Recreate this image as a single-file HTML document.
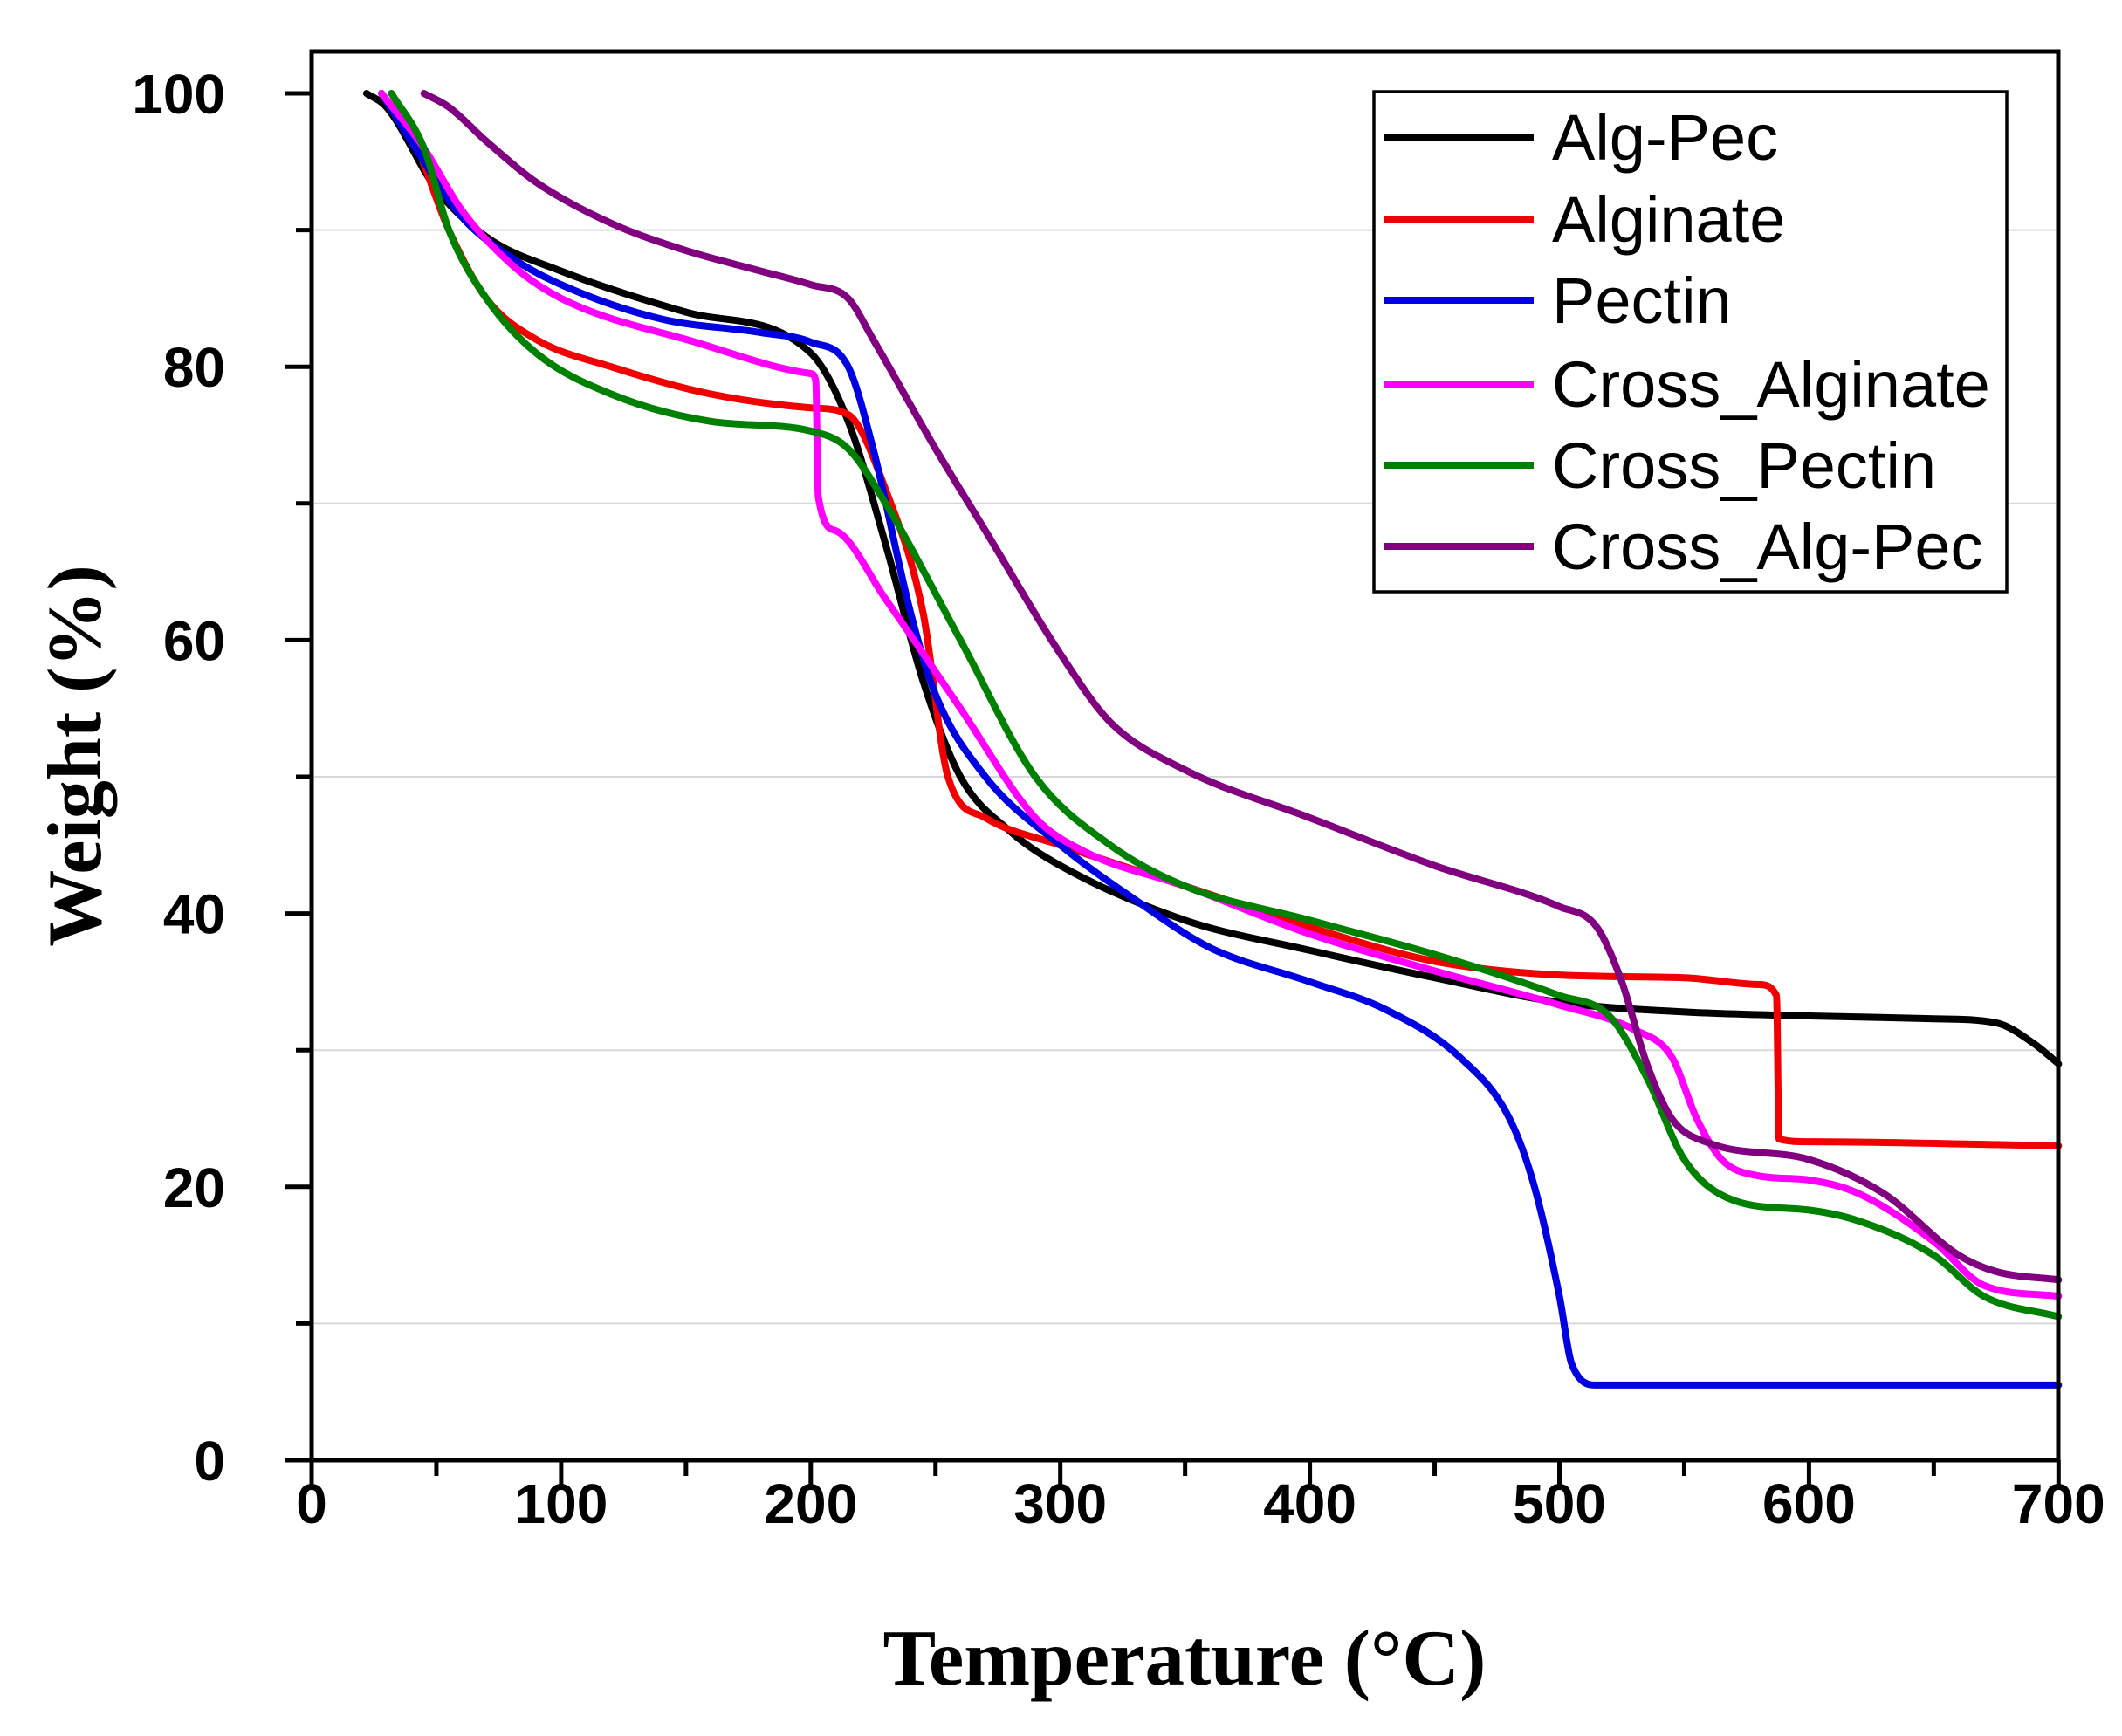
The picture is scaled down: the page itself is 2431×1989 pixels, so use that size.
<!DOCTYPE html>
<html><head><meta charset="utf-8"><style>
html,body{margin:0;padding:0;background:#fff;}
svg{display:block;}
.sans{font-family:"Liberation Sans",Arial,sans-serif;}
.serif{font-family:"Liberation Serif","Times New Roman",serif;font-weight:bold;font-size:91px;}
</style></head><body>
<svg id="s" width="2431" height="1989" viewBox="0 0 2431 1989" xmlns="http://www.w3.org/2000/svg">
<g id="grid" stroke="#d8d8d8" stroke-width="2"></g>
<g id="curves" fill="none" stroke-width="8" stroke-linejoin="round" stroke-linecap="round"></g>
<rect x="357" y="59" width="2001" height="1614" fill="none" stroke="#000" stroke-width="5"/>
<g id="ticks" stroke="#000" stroke-width="5"></g>
<g id="labels" class="sans" font-weight="bold" font-size="64" fill="#000"></g>
<text class="serif" x="1357" y="1930" text-anchor="middle">Temperature (°C)</text>
<text class="serif" transform="translate(115,866) rotate(-90)" text-anchor="middle" style="font-size:88px">Weight (%)</text>
<rect x="1574" y="105" width="725" height="573" fill="#fff" stroke="#000" stroke-width="3.5"/>
<g id="legend" class="sans" font-size="74" fill="#000"></g>
</svg>
<script>
const X=t=>357+t*2.859, Y=w=>1673-w*15.66;
const NS="http://www.w3.org/2000/svg";
function el(p,tag,attrs,txt){const e=document.createElementNS(NS,tag);for(const k in attrs)e.setAttribute(k,attrs[k]);if(txt!==undefined)e.textContent=txt;document.getElementById(p).appendChild(e);}
[10,30,50,70,90].forEach(w=>el("grid","line",{x1:360,x2:2355,y1:Y(w),y2:Y(w)}));
for(let t=0;t<=700;t+=50){const maj=t%100==0;el("ticks","line",{x1:X(t),x2:X(t),y1:1673,y2:1673+(maj?30:18)});
 if(maj)el("labels","text",{x:X(t),y:1745,"text-anchor":"middle"},t);}
for(let w=0;w<=100;w+=10){const maj=w%20==0;el("ticks","line",{x1:357-(maj?30:18),x2:357,y1:Y(w),y2:Y(w)});
 if(maj)el("labels","text",{x:258,y:Y(w)+23,"text-anchor":"end"},w);}
function mono(pts){
 const n=pts.length,xs=pts.map(p=>p[0]),ys=pts.map(p=>p[1]);
 const d=[],m=[];
 for(let i=0;i<n-1;i++)d.push((ys[i+1]-ys[i])/(xs[i+1]-xs[i]));
 m[0]=d[0];m[n-1]=d[n-2];
 for(let i=1;i<n-1;i++){m[i]=(d[i-1]*d[i]<=0)?0:(d[i-1]+d[i])/2;}
 for(let i=0;i<n-1;i++){if(d[i]==0){m[i]=0;m[i+1]=0;continue;}
  const a=m[i]/d[i],b=m[i+1]/d[i],s=a*a+b*b;if(s>9){const t=3/Math.sqrt(s);m[i]=t*a*d[i];m[i+1]=t*b*d[i];}}
 let p="M"+xs[0].toFixed(1)+","+ys[0].toFixed(1);
 for(let i=0;i<n-1;i++){const h=(xs[i+1]-xs[i])/3;
  p+=" C"+(xs[i]+h).toFixed(1)+","+(ys[i]+m[i]*h).toFixed(1)+" "+(xs[i+1]-h).toFixed(1)+","+(ys[i+1]-m[i+1]*h).toFixed(1)+" "+xs[i+1].toFixed(1)+","+ys[i+1].toFixed(1);}
 return p;}
const S=[
["Alg-Pec","#000",[[22,100],[30,99],[50,93],[70,89.5],[100,87],[150,84],[200,81],[215,76],[230,67],[245,57],[260,50],[280,46],[300,43.5],[350,39.5],[400,37.3],[450,35.3],[500,33.5],[550,32.8],[600,32.5],[650,32.3],[675,32],[690,30.5],[700,29]]],
["Alginate","#f00000",[[28,100],[40,97],[55,90],[70,85],[90,82],[120,80],[160,78],[200,77],[215,76.5],[230,71],[245,62],[255,50],[270,47],[300,45],[350,42],[400,39],[450,36.5],[500,35.5],[550,35.3],[580,34.8],[587,34],[588,23.5],[600,23.3],[700,23]]],
["Pectin","#0000e0",[[28,100],[45,95],[60,91],[80,88],[100,86],[140,83.5],[180,82.5],[200,81.8],[215,80],[225,74],[240,62],[250,56],[270,50],[300,45],[330,41],[360,37.5],[400,35],[430,33],[460,29.5],[480,25],[490,20],[500,12],[505,7],[515,5.5],[600,5.5],[700,5.5]]],
["Cross_Alginate","#ff00ff",[[28,100],[45,96],[60,91.5],[80,87.5],[100,85],[150,82],[200,79.5],[202,79],[203,70.5],[210,68],[230,63],[260,55],[290,47],[310,44.5],[350,42],[400,38.5],[450,35.8],[500,33.3],[530,31.5],[545,29.5],[555,25],[565,22],[580,20.8],[600,20.5],[620,19.5],[650,16],[670,12.8],[700,12]]],
["Cross_Pectin","#008000",[[32,100],[45,96],[55,90],[70,85],[90,81],[120,78],[160,76],[200,75.3],[215,74],[230,70],[260,60],[290,50],[320,45],[350,42],[400,39.5],[450,37],[500,34],[520,32.5],[535,28],[550,22],[570,19],[600,18.3],[620,17.5],[650,15],[670,12],[700,10.5]]],
["Cross_Alg-Pec","#800080",[[45,100],[55,99],[70,96.5],[90,93.5],[120,90.5],[150,88.5],[180,87],[200,86],[215,85],[225,82],[250,74],[270,68],[300,59],[320,54],[350,50.5],[400,47],[450,43.5],[500,40.5],[515,39],[525,35],[535,29],[545,25],[560,23.2],[600,22],[630,19.5],[660,15],[675,13.8],[700,13.2]]]
];
const ly=[157,251,344,440,533,626];
S.forEach((s,i)=>{
 el("curves","path",{d:mono(s[2].map(p=>[X(p[0]),Y(p[1])])),stroke:s[1]});
 el("legend","line",{x1:1585,x2:1757,y1:ly[i],y2:ly[i],stroke:s[1],"stroke-width":8});
 el("legend","text",{x:1778,y:ly[i]+26},s[0]);
});
</script>
</body></html>
